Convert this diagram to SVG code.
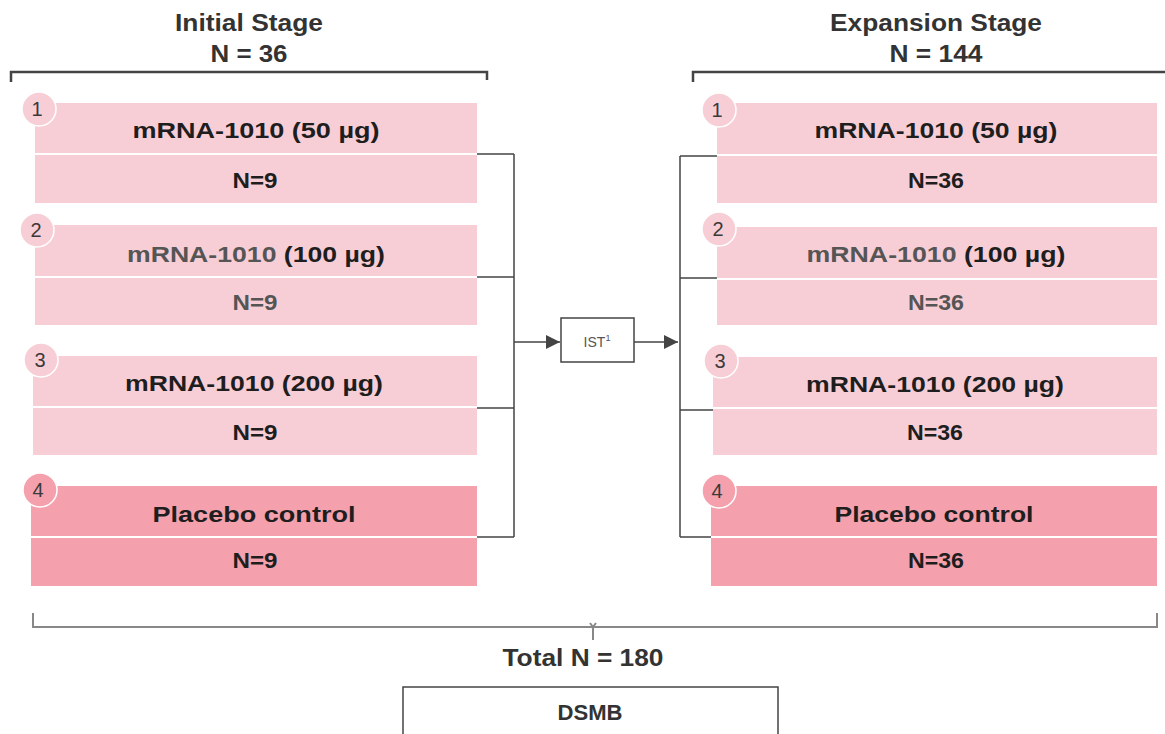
<svg xmlns="http://www.w3.org/2000/svg" width="1165" height="734" viewBox="0 0 1165 734">
<style>
.bg{fill:#ffffff}
.arm{fill:#f8ced6}
.pbo{fill:#f4a1ad}
.div{stroke:#ffffff;stroke-width:2}
.num{fill:#f8ced6;stroke:#ffffff;stroke-width:1.5}
.numd{fill:#f4a1ad;stroke:#ffffff;stroke-width:1.5}
.nt{font-family:"Liberation Sans",Arial,sans-serif;font-size:20px;fill:#3a3a3a;text-anchor:middle}
.lbl{font-family:"Liberation Sans",Arial,sans-serif;font-weight:bold;font-size:22px;fill:#1e1e1e;text-anchor:middle}
.g{fill:#555555}
.ttl{font-family:"Liberation Sans",Arial,sans-serif;font-weight:bold;font-size:23px;fill:#333333;text-anchor:middle}
.ln{fill:none;stroke:#444444;stroke-width:1.5}
.br{fill:none;stroke:#444444;stroke-width:2.5}
.brg{fill:none;stroke:#888888;stroke-width:2}
.box{fill:#ffffff;stroke:#444444;stroke-width:1.5}
</style>
<defs>
<marker id="ah" viewBox="0 0 10 10" refX="10" refY="5" markerWidth="14" markerHeight="14" markerUnits="userSpaceOnUse" orient="auto">
<path d="M0,0 L10,5 L0,10 z" fill="#444444"/>
</marker>
</defs>
<rect class="bg" x="0" y="0" width="1165" height="734"/>

<g id="headers">
<text class="ttl" x="249" y="31" textLength="148" lengthAdjust="spacingAndGlyphs">Initial Stage</text>
<text class="ttl" x="249" y="62" textLength="77" lengthAdjust="spacingAndGlyphs">N = 36</text>
<text class="ttl" x="936" y="31" textLength="212" lengthAdjust="spacingAndGlyphs">Expansion Stage</text>
<text class="ttl" x="936" y="62" textLength="93" lengthAdjust="spacingAndGlyphs">N = 144</text>
<path class="br" d="M11,82 V72 H487 V80"/>
<path class="br" d="M693,82 V72 H1165"/>
</g>

<g id="L1">
<rect class="arm" x="35" y="103" width="442" height="100"/>
<line class="div" x1="35" y1="154" x2="477" y2="154"/>
<circle class="num" cx="39" cy="109" r="17"/>
<text class="nt" x="37" y="116">1</text>
<text class="lbl" x="256" y="138" textLength="247" lengthAdjust="spacingAndGlyphs">mRNA-1010 (50 µg)</text>
<text class="lbl" x="255" y="188" textLength="45" lengthAdjust="spacingAndGlyphs">N=9</text>
</g>
<g id="L2">
<rect class="arm" x="35" y="225" width="442" height="100"/>
<line class="div" x1="35" y1="277" x2="477" y2="277"/>
<circle class="num" cx="37" cy="230" r="17"/>
<text class="nt" x="36" y="237">2</text>
<text class="lbl" x="256" y="262" textLength="258" lengthAdjust="spacingAndGlyphs"><tspan class="g">mRNA-1010</tspan> (100 µg)</text>
<text class="lbl g" x="255" y="310" textLength="45" lengthAdjust="spacingAndGlyphs">N=9</text>
</g>
<g id="L3">
<rect class="arm" x="33" y="356" width="444" height="99"/>
<line class="div" x1="33" y1="407" x2="477" y2="407"/>
<circle class="num" cx="41" cy="360" r="17"/>
<text class="nt" x="40" y="367">3</text>
<text class="lbl" x="254" y="391" textLength="258" lengthAdjust="spacingAndGlyphs">mRNA-1010 (200 µg)</text>
<text class="lbl" x="255" y="440" textLength="45" lengthAdjust="spacingAndGlyphs">N=9</text>
</g>
<g id="L4">
<rect class="pbo" x="31" y="486" width="446" height="100"/>
<line class="div" x1="31" y1="537" x2="477" y2="537"/>
<circle class="numd" cx="40" cy="490" r="17"/>
<text class="nt" x="38" y="497">4</text>
<text class="lbl" x="254" y="522" textLength="203" lengthAdjust="spacingAndGlyphs">Placebo control</text>
<text class="lbl" x="255" y="568" textLength="45" lengthAdjust="spacingAndGlyphs">N=9</text>
</g>

<g id="R1">
<rect class="arm" x="717" y="103" width="440" height="100"/>
<line class="div" x1="717" y1="155" x2="1157" y2="155"/>
<circle class="num" cx="719" cy="110" r="17"/>
<text class="nt" x="717" y="117">1</text>
<text class="lbl" x="936" y="138" textLength="243" lengthAdjust="spacingAndGlyphs">mRNA-1010 (50 µg)</text>
<text class="lbl" x="936" y="188" textLength="56" lengthAdjust="spacingAndGlyphs">N=36</text>
</g>
<g id="R2">
<rect class="arm" x="717" y="227" width="440" height="98"/>
<line class="div" x1="717" y1="279" x2="1157" y2="279"/>
<circle class="num" cx="719" cy="229" r="17"/>
<text class="nt" x="718" y="236">2</text>
<text class="lbl" x="936" y="262" textLength="259" lengthAdjust="spacingAndGlyphs"><tspan class="g">mRNA-1010</tspan> (100 µg)</text>
<text class="lbl g" x="936" y="310" textLength="56" lengthAdjust="spacingAndGlyphs">N=36</text>
</g>
<g id="R3">
<rect class="arm" x="713" y="357" width="444" height="98"/>
<line class="div" x1="713" y1="408" x2="1157" y2="408"/>
<circle class="num" cx="721" cy="361" r="17"/>
<text class="nt" x="720" y="368">3</text>
<text class="lbl" x="935" y="392" textLength="258" lengthAdjust="spacingAndGlyphs">mRNA-1010 (200 µg)</text>
<text class="lbl" x="935" y="440" textLength="56" lengthAdjust="spacingAndGlyphs">N=36</text>
</g>
<g id="R4">
<rect class="pbo" x="711" y="486" width="446" height="100"/>
<line class="div" x1="711" y1="537" x2="1157" y2="537"/>
<circle class="numd" cx="719" cy="491" r="17"/>
<text class="nt" x="717" y="498">4</text>
<text class="lbl" x="934" y="522" textLength="199" lengthAdjust="spacingAndGlyphs">Placebo control</text>
<text class="lbl" x="936" y="568" textLength="56" lengthAdjust="spacingAndGlyphs">N=36</text>
</g>

<g id="IST">
<rect class="box" x="561" y="318" width="73" height="44"/>
<text x="597" y="347" font-family="Liberation Sans,Arial,sans-serif" font-size="14" fill="#555555" text-anchor="middle">IST<tspan font-size="9" dy="-6">1</tspan></text>
</g>

<g id="connectors">
<path class="ln" d="M477,154 H514 M477,277 H514 M477,408 H514 M477,537 H514 M514,154 V537"/>
<line class="ln" x1="514" y1="342" x2="560" y2="342" marker-end="url(#ah)"/>
<line class="ln" x1="634" y1="342" x2="678" y2="342" marker-end="url(#ah)"/>
<path class="ln" d="M680,156 V537 M680,156 H717 M680,278 H717 M680,410 H713 M680,537 H711"/>
</g>

<g id="total">
<path class="brg" d="M33,613 V627 H1157 V613 M593,627 L590,623 M593,627 L596,623 M593,627 V640"/>
<text class="ttl" x="583" y="666" font-size="22" fill="#222222" textLength="161" lengthAdjust="spacingAndGlyphs">Total N = 180</text>
</g>

<g id="DSMB">
<rect class="box" x="403" y="687" width="375" height="60"/>
<text x="590" y="720" font-family="Liberation Sans,Arial,sans-serif" font-weight="bold" font-size="22" fill="#333333" text-anchor="middle" textLength="65" lengthAdjust="spacingAndGlyphs">DSMB</text>
</g>
</svg>
